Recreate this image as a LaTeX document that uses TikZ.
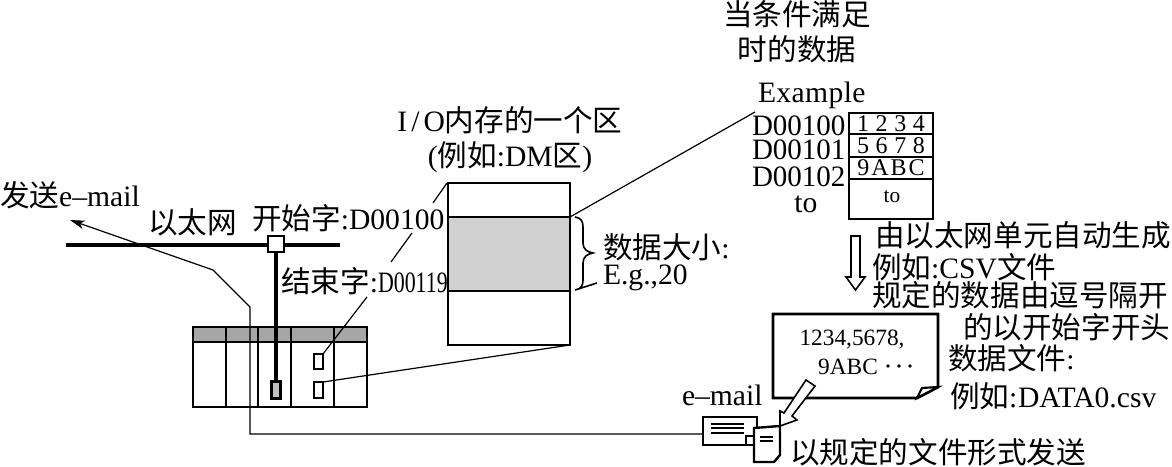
\documentclass[tikz,border=0pt]{standalone}
\usepackage{graphicx}
\usepackage{fontspec}
\setmainfont{Liberation Serif}
\newfontfamily\cjk{Noto Sans CJK SC}
\newcommand{\C}[1]{{\cjk #1}}
\usetikzlibrary{arrows.meta}
\newcommand{\pbox}[6][]{\node[boxs,#1,minimum width=#4*0.75pt,minimum height=#5*0.75pt] (#6) at (#2,#3) {};}
\tikzset{
  boxs/.style={draw=black,line width=2.2pt,inner sep=0pt,outer sep=0pt,fill=white},
  lbl/.style={inner sep=0pt,outer sep=0pt,font=\fontsize{22.2}{24}\selectfont,text=black,anchor=west},
  ctr/.style={lbl,anchor=center},
  thin line/.style={line width=0.9pt},
  heavy/.style={line width=2.2pt},
  mid line/.style={line width=1.2pt},
}
\begin{document}
\begin{tikzpicture}[x=0.75pt,y=-0.75pt]
\useasboundingbox (0,0) rectangle (1172,467);
% leaders
\coordinate (c1) at (367,297); \coordinate (c2) at (391,262); \coordinate (c3) at (412,233);
\coordinate (c4) at (433,203); \coordinate (c5) at (755,112);
\coordinate (c6) at (447,183);
% PLC
\pbox{280}{367}{174}{80}{plc}
\fill[black!35] (193,327) rectangle (367,342);
\draw[heavy] (193,327) rectangle (367,407);
\draw[heavy] (193,342) -- (367,342);
\draw[mid line] (226,327) -- (226,407) (334,327) -- (334,407);
\draw[line width=2.2pt] (258,327) -- (258,407) (291,327) -- (291,407);
\pbox{318.5}{361.5}{9}{15}{m1}
\pbox{318.5}{390}{9}{16}{m2}
\node[boxs,fill=black!25,minimum width=9*0.75pt,minimum height=17*0.75pt] (m3) at (276,390) {};
% ethernet
\coordinate (ea) at (66,245); \coordinate (eb) at (340,245);
\draw[line width=3.2pt] (ea) -- (eb);
\pbox{276}{244}{16}{16}{sw}
\draw[line width=3.6pt] (sw.south) -- (m3.north);
% email route
\coordinate (r1) at (250,307); \coordinate (r2) at (213,270); \coordinate (r3) at (250,434); \coordinate (r4) at (70,220);
% memory
\pbox{509}{264}{122}{162}{mem}
\fill[black!18] (448,217) rectangle (570,291);
\draw[heavy] (448,183) rectangle (570,345);
\draw[heavy] (448,217) -- (570,217) (448,291) -- (570,291);
\coordinate (mtr) at (570,217); \coordinate (mbr) at (570,345);
\draw[thin line] (m1.north east) -- (c1);
\draw[thin line] (c2) -- (c3);
\draw[thin line] (c4) -- (c6);
\draw[thin line] (m2.north east) -- (mbr);
\draw[thin line] (mtr) -- (c5);
% brace
\draw[mid line] (575,217) .. controls (581,218) and (583,221) .. (583,227) -- (583,243) .. controls (583,249) and (587,252) .. (593,253) .. controls (587,254) and (583,257) .. (583,263) -- (583,280) .. controls (583,286) and (581,289) .. (575,290) -- (597,283);
% table
\pbox{891}{166}{84}{106}{tb}
\draw[heavy] (849,134) -- (933,134) (849,157) -- (933,157) (849,179) -- (933,179);
\node[ctr] (t1) at (891,124) {\fontsize{18}{18}\selectfont 1\hspace{5pt}2\hspace{5pt}3\hspace{5pt}4};
\node[ctr] (t2) at (891,146) {\fontsize{18}{18}\selectfont 5\hspace{5pt}6\hspace{5pt}7\hspace{5pt}8};
\node[ctr] (t3) at (891,168) {\fontsize{18}{18}\selectfont 9\hspace{1.5pt}A\hspace{1.5pt}B\hspace{1.5pt}C};
\node[ctr] (t4) at (892,197) {\fontsize{16}{18}\selectfont to};
% down arrow
\draw[mid line] (851,236) -- (860,236) -- (860,277) -- (865,277) -- (855.5,290) -- (846,277) -- (851,277) -- cycle;
% document
\draw[line width=2.2pt,fill=white] (773,314) -- (938,314) -- (938,387) -- (917,398) -- (773,398) -- cycle;
\draw[line width=1.6pt,fill=white] (938,387) -- (922,388) -- (917,398) -- cycle;
\node[ctr] (d1) at (852,340) {\fontsize{17.5}{20}\selectfont 1234,5678,};
\node[ctr] (d2) at (848,367) {\fontsize{17.5}{20}\selectfont 9ABC};
\fill (888,366) circle (1.9) (899,366) circle (1.9) (910,366) circle (1.9);
% envelope
\pbox{730}{431}{54}{28}{env}
\draw[line width=1pt] (711,424) -- (744,424) (711,428) -- (744,428) (711,433) -- (744,433);
\draw[line width=1.4pt] (746,445) -- (746,436) -- (757,436);
% small doc
\draw[line width=1.8pt,fill=white] (754,428) -- (780,426) -- (780,455) -- (774,462) -- (754,462) -- cycle;
\draw[line width=1pt] (760,437) -- (773,437) (760,441) -- (773,441);
% hollow arrow
\draw[line width=1.2pt,fill=white] (806,380) -- (815,386) -- (792,416) -- (797,420) -- (780,426) -- (780,411) -- (784,413) -- cycle;
% route
\draw[thin line,-{Stealth[length=11pt,width=6.5pt,inset=3pt]}] (env.west |- r3) -- (r3) -- (r1) -- (r2) -- (r4);
% labels
\node[ctr] (a1) at (797,14) {\C{当条件满足}};
\node[ctr] (a2) at (797,49) {\C{时的数据}};
\node[lbl] (ex) at (758,95) {\hspace{0pt}E\hspace{.3pt}x\hspace{.3pt}a\hspace{.3pt}m\hspace{.3pt}p\hspace{.3pt}l\hspace{.3pt}e};
\node[lbl] (l1) at (752,126) {\scalebox{0.98}[1]{D00100}};
\node[lbl] (l2) at (752,150) {\scalebox{0.98}[1]{D00101}};
\node[lbl] (l3) at (752,177) {\scalebox{0.98}[1]{D00102}};
\node[ctr] (l4) at (806,204) {to};
\node[ctr] (io1) at (510,120) {I\hspace{3pt}/\hspace{3pt}O\C{内存的一个区}};
\node[ctr] (io2) at (510,157) {(\C{例如}:DM\C{区})};
\node[lbl] (se) at (0,195) {\C{发送}e–mail};
\node[lbl] (yt) at (148,222) {\C{以太网}};
\node[lbl] (ks) at (252,218) {\C{开始字}:D00100};
\node[lbl] (js) at (281,281) {\C{结束字}:\scalebox{0.74}[1]{D00119}};
\node[lbl] (sz) at (603,247) {\C{数据大小}:};
\node[lbl] (eg) at (603,278) {E.g.,20};
\node[lbl] (g1) at (875,235) {\C{由以太网单元自动生成}};
\node[lbl] (g2) at (872,267) {\C{例如}:CSV\C{文件}};
\node[lbl] (g3) at (872,295) {\C{规定的数据由逗号隔开}};
\node[lbl] (g4) at (963,327) {\C{的以开始字开头}};
\node[lbl] (g5) at (948,358) {\C{数据文件}:};
\node[lbl] (g6) at (950,396) {\C{例如}:\hspace{.5pt}DATA0.csv};
\node[lbl] (em) at (682,395) {e–mail};
\node[lbl] (bt) at (790,452) {\C{以规定的文件形式发送}};
\end{tikzpicture}
\end{document}
